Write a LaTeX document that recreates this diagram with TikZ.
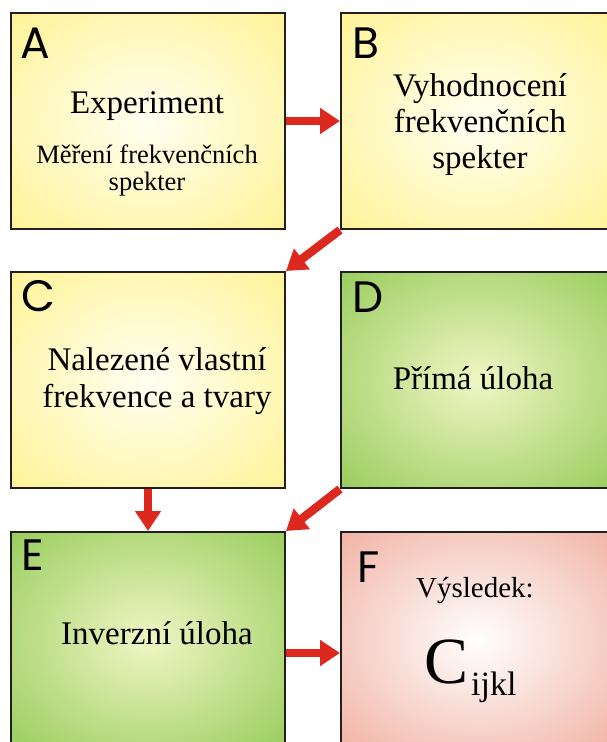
\documentclass[tikz,border=0pt]{standalone}
\usepackage{fontspec}
\setmainfont{Liberation Serif}
\newfontfamily\letterfont{Poppins}
\usetikzlibrary{arrows.meta}
\definecolor{boxline}{HTML}{231F20}
\definecolor{arrowred}{HTML}{DC281E}
\definecolor{yellowin}{HTML}{FFFFF2}
\definecolor{yellowout}{HTML}{FFEE72}
\definecolor{greenin}{HTML}{F0F6C4}
\definecolor{greenout}{HTML}{76BC34}
\definecolor{redin}{HTML}{FFFFFF}
\definecolor{redout}{HTML}{EC9480}
\pgfdeclareradialshading{yellowglow}{\pgfpoint{0bp}{0bp}}{color(0bp)=(yellowin); color(50bp)=(yellowout); color(75bp)=(yellowout)}
\pgfdeclareradialshading{greenglow}{\pgfpoint{0bp}{0bp}}{color(0bp)=(greenin); color(50bp)=(greenout); color(75bp)=(greenout)}
\pgfdeclareradialshading{redglow}{\pgfpoint{0bp}{0bp}}{color(0bp)=(redin); color(50bp)=(redout); color(75bp)=(redout)}

\begin{document}
\begin{tikzpicture}[x=1pt,y=-1pt,
    box/.style={draw=boxline,line width=2pt,anchor=north west,inner sep=0pt,
      minimum width=274pt,minimum height=216pt},
    letter/.style={anchor=base west,inner sep=0pt,font=\letterfont\fontsize{44}{44}\selectfont},
    bigtext/.style={anchor=base,inner sep=0pt,align=center,font=\fontsize{33}{37}\selectfont},
    redarrow/.style={draw=arrowred,line width=8.5pt,-{Triangle[length=20pt,width=25pt]}}]
    \useasboundingbox[fill=white] (0,0) rectangle (606,742);
    % boxes
    \node[box,shading=yellowglow] (A) at (10,12) {};
    \node[box,shading=yellowglow] (B) at (340,12) {};
    \node[box,shading=yellowglow] (C) at (10,271) {};
    \node[box,shading=greenglow] (D) at (340,271) {};
    \node[box,shading=greenglow] (E) at (10,531) {};
    \node[box,shading=redglow] (F) at (340,531) {};
    % letters
    \node[letter] (labA) at (20,58) {A};
    \node[letter] (labB) at (352,58) {B};
    \node[letter] (labC) at (21,311) {C};
    \node[letter] (labD) at (352,312) {D};
    \node[letter] (labE) at (21,570) {E};
    \node[letter] (labF) at (357,582) {F};
    % texts (base = last line)
    \node[bigtext] (expA) at (147,113) {Experiment};
    \node[bigtext,font=\fontsize{26.5}{27}\selectfont] (measA) at (147,190) {Měření frekvenčních\\spekter};
    \node[bigtext,font=\fontsize{33}{36}\selectfont] (evalB) at (480,168) {Vyhodnocení\\frekvenčních\\spekter};
    \node[bigtext] (freqC) at (157,407) {Nalezené vlastní\\frekvence a tvary};
    \node[bigtext] (directD) at (473,389) {Přímá úloha};
    \node[bigtext] (inverseE) at (157,644) {Inverzní úloha};
    \node[bigtext,font=\fontsize{29}{30}\selectfont] (resultF) at (475,597) {Výsledek:};
    \node[anchor=base west,inner sep=0pt] (cijkl) at (424,683)
      {\fontsize{66}{66}\selectfont C\hspace{3pt}\raisebox{-12pt}{\fontsize{34}{34}\selectfont ijkl}};
    % arrows
    \draw[redarrow] (A.east) -- (B.west);
    \draw[redarrow] (B.south west) -- (C.north east);
    \draw[redarrow] (C.south) -- (E.north);
    \draw[redarrow] (D.south west) -- (E.north east);
    \draw[redarrow] ([yshift=-13pt]E.east) -- ([yshift=-13pt]F.west);
\end{tikzpicture}
\end{document}
